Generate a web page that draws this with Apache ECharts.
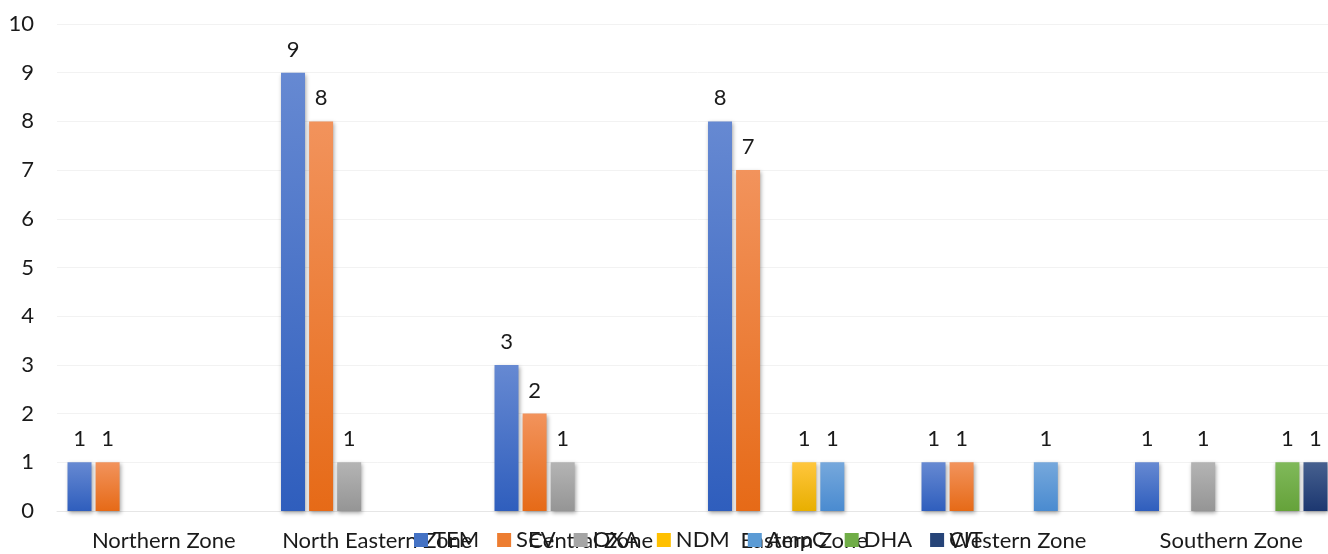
<!DOCTYPE html>
<html>
<head>
<meta charset="utf-8">
<script src="https://cdn.jsdelivr.net/npm/echarts@6/dist/echarts.min.js"></script>
<style>
html,body{margin:0;padding:0;background:#fff;overflow:hidden;}
#chart{width:1338px;height:554px;}
</style>
</head>
<body>
<div id="chart"></div>
<script>
const categories = ['Northern Zone','North Eastern Zone','Central Zone','Eastern Zone','Western Zone','Southern Zone'];
const seriesNames = ['TEM','SEV','OXA','NDM','AmpC','DHA','CIT'];
const TEM  = [1, 9, 3, 8, 1, 1];
const SEV  = [1, 8, 2, 7, 1, 0];
const OXA  = [0, 1, 1, 0, 0, 1];
const NDM  = [0, 0, 0, 1, 0, 0];
const AmpC = [0, 0, 0, 1, 1, 0];
const DHA  = [0, 0, 0, 0, 0, 1];
const CIT  = [0, 0, 0, 0, 0, 1];
const yTicks = [0,1,2,3,4,5,6,7,8,9,10];

const seriesValues = [TEM, SEV, OXA, NDM, AmpC, DHA, CIT];
const gradients = [
  ['#6689d2', '#2f5ebd'],
  ['#f2935c', '#e66a17'],
  ['#b4b4b4', '#959595'],
  ['#ffc63d', '#e8af00'],
  ['#76a8dc', '#4a8bd0'],
  ['#80b95a', '#65a23a'],
  ['#46608f', '#1c3770']
];
const legendColors = ['#4472C4','#ED7D31','#A5A5A5','#FFC000','#5B9BD5','#70AD47','#264478'];
const FONT = 'Lato';
const FS = 22;

const chart = echarts.init(document.getElementById('chart'), null, {renderer:'canvas'});
const series = seriesNames.map((name, i) => ({
  name,
  type: 'bar',
  barWidth: 24,
  barGap: '17%',
  data: seriesValues[i].map(v => v === 0 ? null : v),
  itemStyle: {
    color: new echarts.graphic.LinearGradient(0,0,0,1,[
      {offset:0, color:gradients[i][0]},
      {offset:1, color:gradients[i][1]}
    ]),
    shadowBlur: 4,
    shadowColor: 'rgba(0,0,0,0.35)',
    shadowOffsetX: 1,
    shadowOffsetY: 2
  },
  label: {
    show: true,
    position: 'top',
    distance: 8,
    fontFamily: FONT,
    fontSize: FS,
    color: '#1a1a1a',
    backgroundColor: '#fff',
    padding: [4, 3]
  },
  emphasis: {disabled: true}
}));

chart.setOption({
  animation: false,
  backgroundColor: '#fff',
  textStyle: {fontFamily: FONT},
  grid: {left: 57, right: 0, top: 24, bottom: 43, containLabel: false},
  legend: {
    data: seriesNames.map((n, i) => ({name: n, itemStyle: {color: legendColors[i]}})),
    left: 409,
    top: 524,
    itemWidth: 14,
    itemHeight: 14,
    itemGap: 18,
    icon: 'rect',
    textStyle: {fontFamily: FONT, fontSize: FS, color: '#1a1a1a'}
  },
  xAxis: {
    type: 'category',
    data: categories,
    axisTick: {show: false},
    axisLine: {lineStyle: {color: '#e6e6e6', width: 1}},
    axisLabel: {fontFamily: FONT, fontSize: FS, color: '#1a1a1a', margin: 19, interval: 0}
  },
  yAxis: {
    type: 'value',
    min: yTicks[0],
    max: yTicks[yTicks.length-1],
    interval: 1,
    axisLine: {show: false},
    axisTick: {show: false},
    splitLine: {lineStyle: {color: '#f2f2f2', width: 1}},
    axisLabel: {fontFamily: FONT, fontSize: FS, color: '#1a1a1a', margin: 23}
  },
  series
});
</script>
</body>
</html>
